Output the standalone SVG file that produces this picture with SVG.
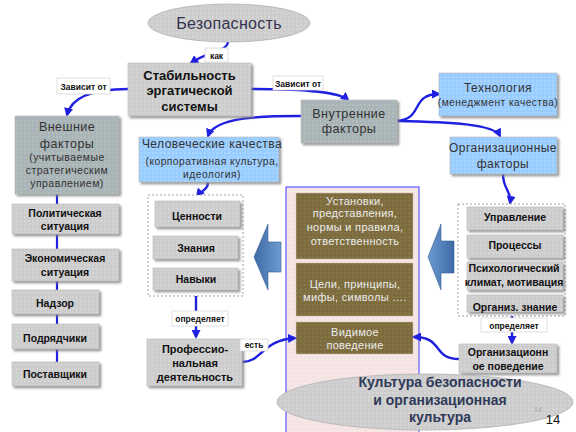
<svg xmlns="http://www.w3.org/2000/svg" width="576" height="432" viewBox="0 0 576 432">
<defs>
  <pattern id="pGray" width="4" height="4" patternUnits="userSpaceOnUse">
    <rect width="4" height="4" fill="#cdcdcd"/><circle cx="1" cy="1" r="0.6" fill="#fff" fill-opacity="0.7"/>
  </pattern>
  <pattern id="pTeal" width="4" height="4" patternUnits="userSpaceOnUse">
    <rect width="4" height="4" fill="#a9b4b6"/><circle cx="1" cy="1" r="0.6" fill="#fff" fill-opacity="0.5"/>
  </pattern>
  <pattern id="pBlue" width="4" height="4" patternUnits="userSpaceOnUse">
    <rect width="4" height="4" fill="#99ccff"/><circle cx="1" cy="1" r="0.6" fill="#fff" fill-opacity="0.7"/>
  </pattern>
  <pattern id="pBrown" width="4" height="4" patternUnits="userSpaceOnUse">
    <rect width="4" height="4" fill="#7d6c3e"/><circle cx="1" cy="1" r="0.6" fill="#c8b890" fill-opacity="0.5"/>
  </pattern>
  <pattern id="pPink" width="4" height="4" patternUnits="userSpaceOnUse">
    <rect width="4" height="4" fill="#f6e6e6"/><circle cx="1" cy="1" r="0.6" fill="#d8c0c0" fill-opacity="0.6"/>
  </pattern>
  <linearGradient id="gArrow" x1="0" y1="0" x2="1" y2="0">
    <stop offset="0" stop-color="#3e6aa6"/>
    <stop offset="1" stop-color="#6d9ad0"/>
  </linearGradient>
  <linearGradient id="gArrowR" x1="1" y1="0" x2="0" y2="0">
    <stop offset="0" stop-color="#3e6aa6"/>
    <stop offset="1" stop-color="#6d9ad0"/>
  </linearGradient>
  <filter id="sh" x="-10%" y="-10%" width="130%" height="130%">
    <feDropShadow dx="2" dy="2" stdDeviation="0.8" flood-color="#808080" flood-opacity="0.8"/>
  </filter>
  <marker id="ah" markerWidth="9" markerHeight="9" refX="7" refY="4.5" orient="auto" markerUnits="userSpaceOnUse">
    <path d="M0,0 L9,4.5 L0,9 Z" fill="#2020e0"/>
  </marker>
  <style>
    .t { font-family: "Liberation Sans", Arial, sans-serif; text-anchor: middle; }
    .b { font-weight: bold; fill: #111; }
    .n { fill: #333; letter-spacing: 0.45px; }
    .w { fill: #ececec; font-size: 11px; letter-spacing: 0.3px; }
    .box { stroke: #b8b8b8; stroke-width: 0.6; filter: url(#sh); }
    .lbl { fill: #fff; stroke: #d8d8d8; stroke-width: 0.8; }
    .lt { font-size: 8.5px; font-weight: bold; fill: #111; }
    .con { fill: none; stroke: #2020e0; stroke-width: 2.4; }
  </style>
</defs>

<rect width="576" height="432" fill="#ffffff"/>

<!-- Container -->
<g id="container">
  <rect x="286" y="187" width="133" height="250" fill="url(#pPink)" stroke="#5a5aff" stroke-width="1.2"/>
  <rect x="296" y="193" width="117" height="66" fill="url(#pBrown)" stroke="#cbbfa0" stroke-width="0.5"/>
  <text class="t w" x="355" y="204.5">Установки,</text>
  <text class="t w" x="355" y="217">представления,</text>
  <text class="t w" x="355" y="230.5">нормы и правила,</text>
  <text class="t w" x="355" y="244.5">ответственность</text>
  <rect x="296" y="263" width="117" height="53" fill="url(#pBrown)" stroke="#cbbfa0" stroke-width="0.5"/>
  <text class="t w" x="355" y="287.5">Цели,  принципы,</text>
  <text class="t w" x="355" y="300.5">мифы, символы ….</text>
</g>
<g id="vidimoe">
  <rect x="296" y="322" width="117" height="32" fill="url(#pBrown)" stroke="#cbbfa0" stroke-width="0.5"/>
  <text class="t w" x="355" y="335.5">Видимое</text>
  <text class="t w" x="355" y="348.5">поведение</text>
</g>

<!-- Block arrows -->
<g id="arrowL">
  <polygon points="254,257 268,224 268,242 281,242 281,272 268,272 268,290" fill="url(#gArrow)" stroke="#3a5f96" stroke-width="0.6"/>
</g>
<g id="arrowR">
  <polygon points="428,257 441,224 441,241 454,241 454,273 441,273 441,290" fill="url(#gArrowR)" stroke="#3a5f96" stroke-width="0.6"/>
</g>

<!-- Connectors -->
<g id="connectors">
  <line x1="57" y1="194" x2="57" y2="362" stroke="#2020e0" stroke-width="2.2"/>
  <path class="con" d="M228,42 C227,52 206,52 191,63" marker-end="url(#ah)"/>
  <path class="con" d="M128,89 C100,89 72,94 67,115" marker-end="url(#ah)"/>
  <path class="con" d="M251,89 C300,89 338,91 348,100" marker-end="url(#ah)"/>
  <path class="con" d="M301,116 C260,116 215,117 208,136" marker-end="url(#ah)"/>
  <path class="con" d="M397,121 C424,119 410,94 439,94" marker-end="url(#ah)"/>
  <path class="con" d="M397,121 C450,122 494,124 500,136" marker-end="url(#ah)"/>
  <path class="con" d="M503,174 C503,190 512,191 510,203" marker-end="url(#ah)"/>
  <path class="con" d="M208,182 C208,190 201,191 197,196" marker-end="url(#ah)"/>
  <path class="con" d="M196,296 L196,337" marker-end="url(#ah)"/>
  <path class="con" d="M512,316 L512,343" marker-end="url(#ah)"/>
  <path class="con" d="M242,362 C262,362 262,340 295,338" marker-end="url(#ah)"/>
  <path class="con" d="M459,359 C432,359 444,337 414,337" marker-end="url(#ah)"/>
</g>

<!-- Top ellipse -->
<g id="bezopasnost">
  <ellipse cx="229" cy="23" rx="81" ry="19" fill="url(#pGray)" stroke="#b0b0b0" stroke-width="0.8"/>
  <text class="t" x="229" y="29" font-size="16" fill="#333350" letter-spacing="0.3">Безопасность</text>
</g>

<g id="stabilnost">
  <rect class="box" x="128" y="63" width="123" height="53" fill="url(#pGray)"/>
  <text class="t b" x="189.5" y="79.5" font-size="13">Стабильность</text>
  <text class="t b" x="189.5" y="95" font-size="13">эргатической</text>
  <text class="t b" x="189.5" y="110.5" font-size="13">системы</text>
</g>

<g id="vneshnie">
  <rect class="box" x="15" y="116" width="104" height="78" fill="url(#pTeal)"/>
  <text class="t n" x="67" y="131" font-size="12.5">Внешние</text>
  <text class="t n" x="67" y="148" font-size="12.5">факторы</text>
  <text class="t n" x="67" y="160.5" font-size="10.5">(учитываемые</text>
  <text class="t n" x="67" y="173.5" font-size="10.5">стратегическим</text>
  <text class="t n" x="67" y="186.5" font-size="10.5">управлением)</text>
</g>

<g id="vnutrennie">
  <rect class="box" x="301" y="100" width="96" height="43" fill="url(#pTeal)"/>
  <text class="t n" x="349" y="117.5" font-size="12.5">Внутренние</text>
  <text class="t n" x="349" y="132.5" font-size="12.5">факторы</text>
</g>

<g id="tehnologiya">
  <rect class="box" x="439" y="73" width="118" height="43" fill="url(#pBlue)"/>
  <text class="t n" x="498" y="91.5" font-size="12">Технология</text>
  <text class="t n" x="498" y="105.5" font-size="10.2">(менеджмент качества)</text>
</g>

<g id="organiz">
  <rect class="box" x="450" y="137" width="107" height="37" fill="url(#pBlue)"/>
  <text class="t n" x="503" y="151.5" font-size="12">Организационные</text>
  <text class="t n" x="503" y="167.5" font-size="12">факторы</text>
</g>

<g id="chelovech">
  <rect class="box" x="139" y="137" width="140" height="45" fill="url(#pBlue)"/>
  <text class="t n" x="212" y="147.5" font-size="12">Человеческие качества</text>
  <text class="t n" x="212" y="164.5" font-size="10.3">(корпоративная культура,</text>
  <text class="t n" x="212" y="177.5" font-size="10.3">идеология)</text>
</g>

<!-- Left dashed group -->
<g id="leftgroup">
  <rect x="148" y="195" width="95" height="101" fill="#fff" stroke="#a0a0a0" stroke-width="1" stroke-dasharray="2,2"/>
  <rect class="box" x="155" y="201" width="85" height="26" fill="url(#pGray)"/>
  <text class="t b" x="197" y="219.5" font-size="10.5">Ценности</text>
  <rect class="box" x="153" y="236" width="85" height="23" fill="url(#pGray)"/>
  <text class="t b" x="196" y="251.5" font-size="10.5">Знания</text>
  <rect class="box" x="153" y="268" width="85" height="22" fill="url(#pGray)"/>
  <text class="t b" x="196" y="282.5" font-size="10.5">Навыки</text>
</g>

<g id="profdeyat">
  <rect class="box" x="147" y="339" width="95" height="47" fill="url(#pGray)"/>
  <text class="t b" x="195" y="353" font-size="11">Профессио-</text>
  <text class="t b" x="195" y="367" font-size="11">нальная</text>
  <text class="t b" x="195" y="381" font-size="11">деятельность</text>
</g>

<!-- Left column -->
<g id="polit">
  <rect class="box" x="12" y="204" width="107" height="30" fill="url(#pGray)"/>
  <text class="t b" x="65" y="216.5" font-size="10.5">Политическая</text>
  <text class="t b" x="65" y="229.5" font-size="10.5">ситуация</text>
</g>
<g id="econ">
  <rect class="box" x="12" y="249" width="107" height="32" fill="url(#pGray)"/>
  <text class="t b" x="65" y="261.5" font-size="10.5">Экономическая</text>
  <text class="t b" x="65" y="275.5" font-size="10.5">ситуация</text>
</g>
<g id="nadzor">
  <rect class="box" x="12" y="290" width="87" height="24" fill="url(#pGray)"/>
  <text class="t b" x="55" y="306.5" font-size="10.5">Надзор</text>
</g>
<g id="podryad">
  <rect class="box" x="12" y="324" width="87" height="25" fill="url(#pGray)"/>
  <text class="t b" x="55" y="341.5" font-size="10.5">Подрядчики</text>
</g>
<g id="postav">
  <rect class="box" x="12" y="362" width="87" height="24" fill="url(#pGray)"/>
  <text class="t b" x="55" y="377.5" font-size="10.5">Поставщики</text>
</g>

<!-- Right dashed group -->
<g id="rightgroup">
  <rect x="458" y="204" width="107" height="112" fill="#fff" stroke="#a0a0a0" stroke-width="1" stroke-dasharray="2,2"/>
  <rect class="box" x="467" y="207" width="96" height="23" fill="url(#pGray)"/>
  <text class="t b" x="515" y="220.5" font-size="10.5">Управление</text>
  <rect class="box" x="467" y="235" width="96" height="23" fill="url(#pGray)"/>
  <text class="t b" x="515" y="248.5" font-size="10.5">Процессы</text>
  <rect class="box" x="467" y="262" width="96" height="28" fill="url(#pGray)"/>
  <text class="t b" x="514" y="271.5" font-size="10.5">Психологический</text>
  <text class="t b" x="514" y="285.5" font-size="10.5">климат, мотивация</text>
  <rect class="box" x="467" y="295" width="96" height="17" fill="url(#pGray)"/>
  <text class="t b" x="515" y="310.5" font-size="10.5">Организ. знание</text>
</g>

<g id="orgpoved">
  <rect class="box" x="459" y="344" width="98" height="29" fill="url(#pGray)"/>
  <text class="t b" x="508" y="355.5" font-size="10.5">Организационн</text>
  <text class="t b" x="508" y="369.5" font-size="10.5">ое поведение</text>
</g>

<!-- Bottom ellipse -->
<g id="kultura">
  <ellipse cx="425" cy="402" rx="148" ry="28" fill="url(#pGray)" stroke="#b0b0b0" stroke-width="0.8"/>
  <text class="t" x="440" y="386.5" font-size="14" font-weight="bold" fill="#2f3a58">Культура безопасности</text>
  <text class="t" x="440" y="404.5" font-size="14" font-weight="bold" fill="#2f3a58">и организационная</text>
  <text class="t" x="440" y="421.5" font-size="14" font-weight="bold" fill="#2f3a58">культура</text>
  <text class="t" x="538" y="412" font-size="7" fill="#a8a8a8">14</text>
</g>
<text class="t" x="553" y="424" font-size="13" fill="#111">14</text>

<!-- Labels -->
<g id="labels">
  <rect class="lbl" x="205" y="48" width="23" height="14"/>
  <text class="t lt" x="216.5" y="58.5" font-size="9">как</text>
  <rect class="lbl" x="57" y="78" width="53" height="16"/>
  <text class="t lt" x="83.5" y="89.5">Зависит от</text>
  <rect class="lbl" x="273" y="76" width="50" height="14"/>
  <text class="t lt" x="298" y="86.5">Зависит от</text>
  <rect class="lbl" x="172" y="311" width="56" height="15"/>
  <text class="t lt" x="200" y="321.5">определяет</text>
  <rect class="lbl" x="240" y="339" width="28" height="12"/>
  <text class="t lt" x="254" y="348">есть</text>
  <rect class="lbl" x="481" y="318" width="66" height="14"/>
  <text class="t lt" x="514" y="328.5">определяет</text>
</g>
</svg>
